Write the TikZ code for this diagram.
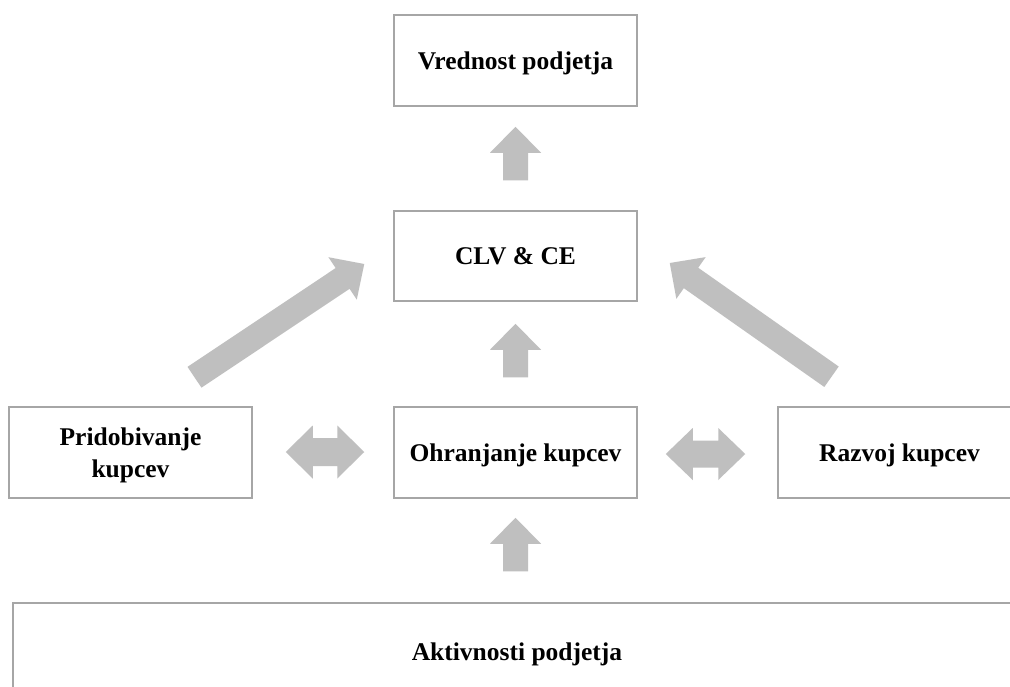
\documentclass[tikz,border=0pt]{standalone}
\usepackage{fontspec}
\setmainfont{Liberation Serif}
\usetikzlibrary{calc}
\definecolor{boxline}{HTML}{A6A6A6}
\definecolor{arrowgray}{HTML}{BFBFBF}
\tikzset{
  box/.style={draw=boxline, line width=1.5pt, fill=white, minimum width=243pt, minimum height=91pt,
    inner sep=2pt, align=center, text height=21pt, text depth=4pt,
    font=\fontsize{25.5}{32}\selectfont\bfseries},
  arrowfill/.style={fill=arrowgray, draw=none}
}
% fat single arrow: #1 tail, #2 tip, #3 shaft half width, #4 head half width
\newcommand\fatarrow[4]{%
  \coordinate (fah) at ($(#2)!26pt!(#1)$);
  \fill[arrowfill] ($(#1)!#3!-90:(#2)$) -- ($(fah)!#3!-90:(#2)$) -- ($(fah)!#4!-90:(#2)$) -- (#2)
    -- ($(fah)!#4!90:(#2)$) -- ($(fah)!#3!90:(#2)$) -- ($(#1)!#3!90:(#2)$) -- cycle;}
% fat double arrow between #1 and #2
\newcommand\fatdouble[4]{%
  \coordinate (dah1) at ($(#1)!27pt!(#2)$);
  \coordinate (dah2) at ($(#2)!27pt!(#1)$);
  \fill[arrowfill] (#1) -- ($(dah1)!#4!-90:(#2)$) -- ($(dah1)!#3!-90:(#2)$) -- ($(dah2)!#3!-90:(#2)$)
    -- ($(dah2)!#4!-90:(#2)$) -- (#2) -- ($(dah2)!#4!90:(#2)$) -- ($(dah2)!#3!90:(#2)$)
    -- ($(dah1)!#3!90:(#2)$) -- ($(dah1)!#4!90:(#2)$) -- cycle;}
\begin{document}
\begin{tikzpicture}[x=1pt, y=-1pt]
\useasboundingbox (0,0) rectangle (1010,686);
\clip (0,0) rectangle (1010,686);
\fill[white] (0,0) rectangle (1010,686);

\node[box] (vred) at (515.5,60.5) {Vrednost podjetja};
\node[box, minimum height=90pt] (clv) at (515.5,256) {CLV \& CE};
\node[box] (ohr) at (515.5,452.5) {Ohranjanje kupcev};
\node[box, text height=54pt, text depth=5pt] (prid) at (130.5,452.5) {Pridobivanje\\kupcev};
\node[box] (razv) at (899.5,452.5) {Razvoj kupcev};
\node[box, minimum width=1008pt, minimum height=97pt] (akt) at (517,651.5) {Aktivnosti podjetja};

% up arrows
\coordinate (u1t) at ([shift={(0,-30)}]clv.north);
\coordinate (u1h) at ([shift={(0,20)}]vred.south);
\fatarrow{u1t}{u1h}{12.5pt}{25.5pt}
\coordinate (u2t) at ([shift={(0,-29)}]ohr.north);
\coordinate (u2h) at ([shift={(0,22)}]clv.south);
\fatarrow{u2t}{u2h}{12.5pt}{25.5pt}
\coordinate (u3t) at ([shift={(-1.5,-31)}]akt.north);
\coordinate (u3h) at ([shift={(0,19)}]ohr.south);
\fatarrow{u3t}{u3h}{12.5pt}{25.5pt}

% diagonal arrows
\coordinate (dlt) at ([shift={(64,-29)}]prid.north);
\coordinate (dlh) at ([shift={(-29,8)}]clv.west);
\fatarrow{dlt}{dlh}{12.5pt}{25.5pt}
\coordinate (drt) at ([shift={(-68,-29.5)}]razv.north);
\coordinate (drh) at ([shift={(32,7)}]clv.east);
\fatarrow{drt}{drh}{12.5pt}{25.5pt}

% double arrows
\coordinate (ll) at ([shift={(33,-0.5)}]prid.east);
\coordinate (lr) at ([shift={(-29,-0.5)}]ohr.west);
\fatdouble{ll}{lr}{14pt}{26.5pt}
\coordinate (rl) at ([shift={(28,1.5)}]ohr.east);
\coordinate (rr) at ([shift={(-32,1.5)}]razv.west);
\fatdouble{rl}{rr}{13.5pt}{26pt}
\end{tikzpicture}
\end{document}
